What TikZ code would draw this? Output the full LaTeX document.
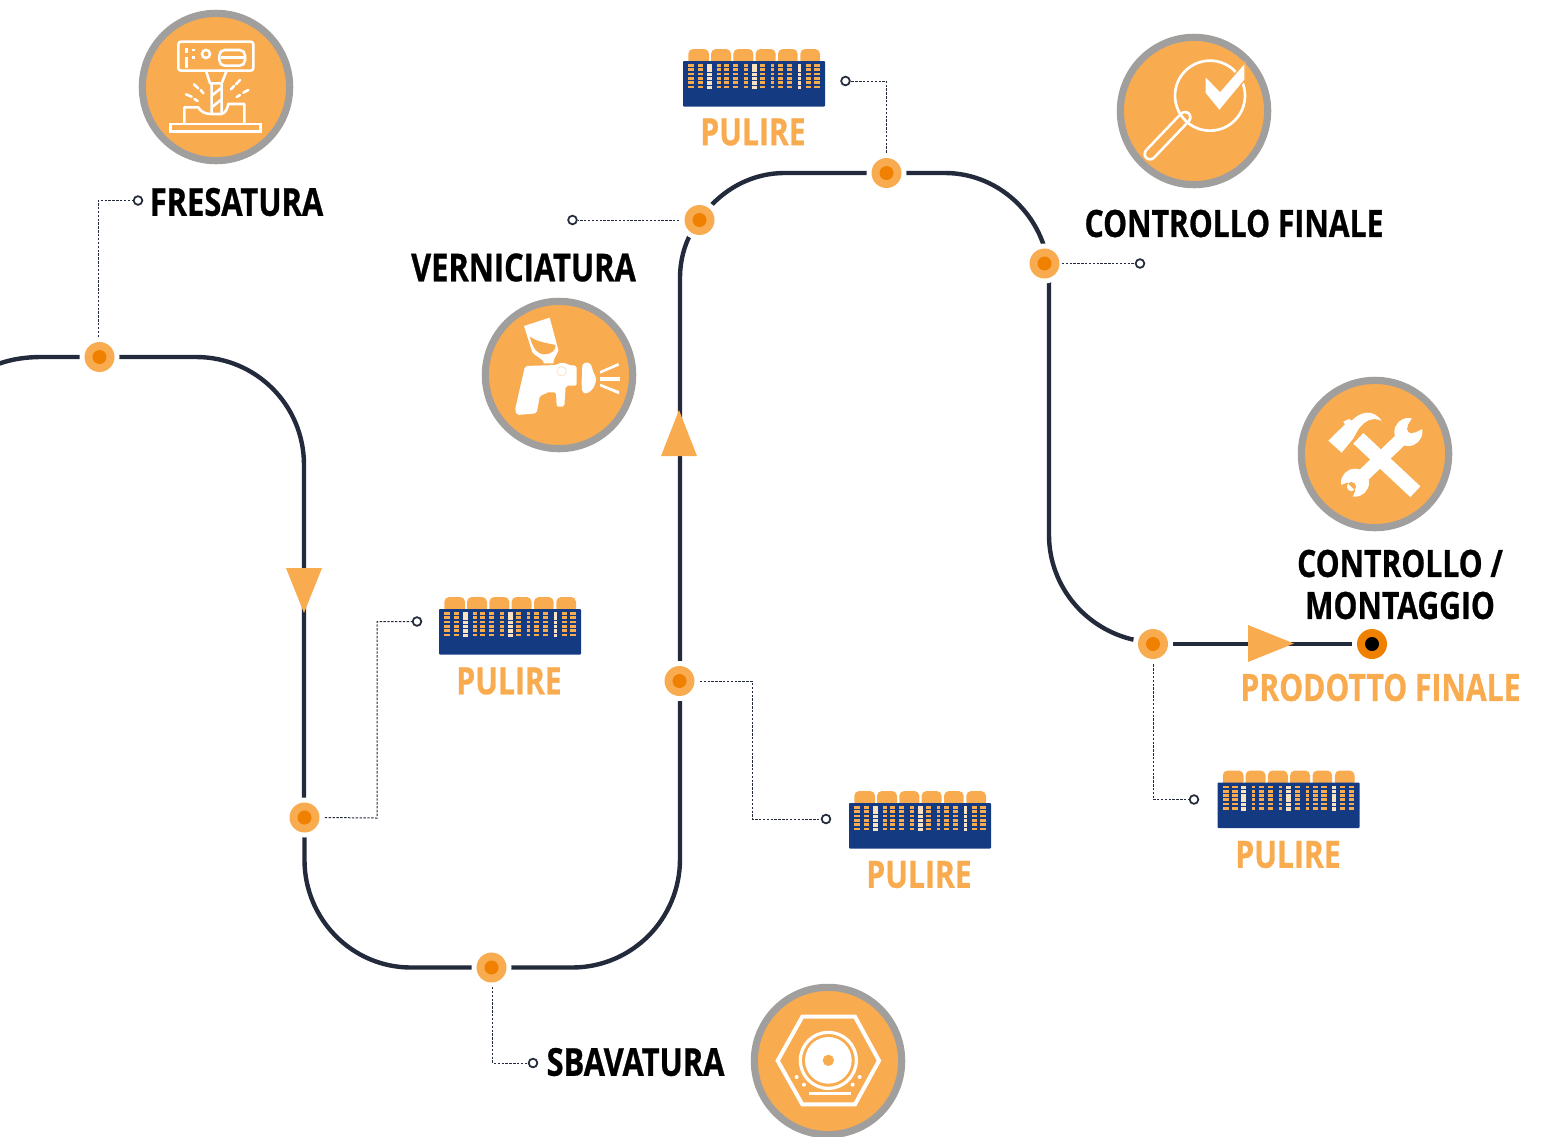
\documentclass[tikz,border=0pt]{standalone}
\usepackage{fontspec}
\usetikzlibrary{backgrounds}
\setmainfont{Open Sans}
\newfontfamily\lab[FakeStretch=0.8,BoldFeatures={FakeBold=0.7}]{Open Sans}
\definecolor{track}{HTML}{232A3C}
\definecolor{lorange}{HTML}{F9AB50}
\definecolor{dorange}{HTML}{F08000}
\definecolor{ringgrey}{HTML}{A09F9D}
\definecolor{navy}{HTML}{143A82}
\tikzset{
 trackline/.style={draw=track,line width=3.3pt},
 leader/.style={draw=track,line width=.75pt,dash pattern=on 1.8pt off 1.1pt},
 dotnode/.style={circle,inner sep=0,minimum size=30pt,fill=white,
   path picture={\fill[lorange] (path picture bounding box.center) circle[radius=15];
                 \fill[dorange] (path picture bounding box.center) circle[radius=7];}},
 endnode/.style={circle,inner sep=0,minimum size=30pt,fill=white,
   path picture={\fill[dorange] (path picture bounding box.center) circle[radius=15];
                 \fill[black] (path picture bounding box.center) circle[radius=7];}},
 tipnode/.style={circle,inner sep=0,minimum size=6.5pt,fill=white,draw=track,line width=1.3pt},
 ringnode/.style={circle,inner sep=0,minimum size=110.5pt,fill=lorange,draw=ringgrey,line width=5.4pt},
 blacklabel/.style={font=\lab\bfseries\fontsize{28.2}{31.5}\selectfont,text=black,inner sep=0,align=center},
 widelabel/.style={font=\lab\bfseries\fontsize{28.9}{31.5}\selectfont,text=black,inner sep=0,align=center},
 orangelabel/.style={font=\lab\bfseries\fontsize{28.2}{31.5}\selectfont,text=lorange,inner sep=0},
 wl/.style={draw=white,line width=1.9pt,fill=none},
 wf/.style={fill=white,draw=none},
 zoomed/.style={x=.25pt,y=-.25pt},
 pulire/.pic={
   \foreach \a/\b in {5.3/26,28/48,50.3/70.3,72.6/92.6,95/114.6,117.3/137}{
     \fill[lorange,rounded corners=3.6pt] (\a,4) -- (\a,-12) -- (\b,-12) -- (\b,4) -- cycle;}
   \fill[navy,rounded corners=.6pt] (0,0) rectangle (142,45.5);
   \foreach \yy in {3,7.3,11.5,15.7,20,24.6}{
     \foreach \xx/\w in {5.3/5.7,14.7/5.6,34.3/3.4,41.3/5,50.3/5,61.3/3.4,77/5,88/3.3,95.3/5,103.7/5.6,122.7/5,131/5.7}{
       \fill[lorange] (\xx,\yy) rectangle (\xx+\w,\yy+2.8);}
     \fill[white!65!lorange] (23.7,\yy) rectangle (28.7,\yy+3.6);
     \fill[white!65!lorange] (68.7,\yy) rectangle (73.7,\yy+3.6);
     \fill[white!65!lorange] (114.7,\yy) rectangle (118,\yy+3.6);
   }
 }
}
\begin{document}
\begin{tikzpicture}[x=.75pt,y=-.75pt]
\useasboundingbox (0,0) rectangle (1541,1136);
\clip (0,0) rectangle (1541,1136);

% route nodes
\node[dotnode] (n1) at (99.5,357) {};
\node[dotnode] (n2) at (304.5,817.5) {};
\node[dotnode] (n3) at (491.5,967.5) {};
\node[dotnode] (n4) at (679.5,681) {};
\node[dotnode] (n5) at (699.5,220) {};
\node[dotnode] (n6) at (886.5,173) {};
\node[dotnode] (n7) at (1044.5,263.5) {};
\node[dotnode] (n8) at (1153,644) {};
\node[endnode] (n9) at (1372,644) {};
\coordinate (start) at (-2,364);

\begin{scope}[on background layer]
\draw[trackline] (start) .. controls (12,359) and (26,357) .. (42,357) -- (n1.center);
\draw[trackline] (n1.center) -- (196,357) .. controls (256,357) and (304,405) .. (304,465) -- (304,817.5);
\draw[trackline] (n2.center) -- (304.5,860) .. controls (304.5,919) and (352,967.5) .. (411,967.5) -- (n3.center);
\draw[trackline] (n3.center) -- (572,967.5) .. controls (632,967.5) and (680,919) .. (680,859) -- (680,681);
\draw[trackline] (680,681) -- (680,278) .. controls (680,256) and (687,236) .. (n5.center);
\draw[trackline] (n5.center) .. controls (719,191) and (750,173) .. (785,173) -- (n6.center);
\draw[trackline] (n6.center) -- (945,173) .. controls (1002,173) and (1049,221) .. (1049,278) -- (1049,535) .. controls (1049,587) and (1087,632) .. (1140,641) -- (n8.center);
\draw[trackline] (n8.center) -- (n9.center);
\end{scope}

% direction triangles
\fill[lorange] (286,568) -- (322,568) -- (304,613) -- cycle;
\fill[lorange] (661,456) -- (697,456) -- (679,410) -- cycle;
\fill[lorange] (1248,625) -- (1248,662) -- (1294,643.5) -- cycle;

% leader tips
\node[tipnode] (t1) at (138,200.5) {};
\node[tipnode] (t2) at (417,621.5) {};
\node[tipnode] (t3) at (533,1063) {};
\node[tipnode] (t4) at (826,819) {};
\node[tipnode] (t5) at (572.5,220) {};
\node[tipnode] (t6) at (845.5,81) {};
\node[tipnode] (t7) at (1140,263.5) {};
\node[tipnode] (t8) at (1194,799.5) {};
\draw[leader] (98,337) -- (98,200.5) -- (t1.west);
\draw[leader] (n2.east) -- (377,818) -- (377,621.5) -- (t2.west);
\draw[leader] (492.5,987) -- (492.5,1063) -- (t3.west);
\draw[leader] (n4.east) -- (752,681) -- (752,819) -- (t4.west);
\draw[leader] (n5.west) -- (t5.east);
\draw[leader] (n6.north) -- (886.5,81) -- (t6.east);
\draw[leader] (n7.east) ++(-3,0) -- (t7.west);
\draw[leader] (n8.south) -- (1153,799.5) -- (t8.west);

% pulire blocks
\pic at (683,61) {pulire};
\pic at (439,609) {pulire};
\pic at (849,803) {pulire};
\pic at (1217.5,782.5) {pulire};
\node[orangelabel] (p1) at (753,132) {PULIRE};
\node[orangelabel] (p2) at (509,681) {PULIRE};
\node[orangelabel] (p3) at (919,874.5) {PULIRE};
\node[orangelabel] (p4) at (1288,854.5) {PULIRE};

% labels
\node[widelabel] (l1) at (236.5,202) {FRESATURA};
\node[widelabel] (l2) at (635.5,1062) {SBAVATURA};
\node[blacklabel] (l3) at (1234,223.5) {CONTROLLO FINALE};
\node[widelabel] (l4) at (523.5,267.5) {VERNICIATURA};
\node[blacklabel] (l5) at (1400,584.5) {CONTROLLO /\\MONTAGGIO};
\node[orangelabel] (l6) at (1380.5,687.5) {PRODOTTO FINALE};

% icon rings
\node[ringnode] (r1) at (216,87) {};
\node[ringnode] (r2) at (559,375) {};
\node[ringnode] (r3) at (1194,111) {};
\node[ringnode] (r4) at (1375,454) {};
\node[ringnode] (r5) at (828,1061) {};

% milling icon
\begin{scope}[shift={(130,0)},zoomed]
\draw[wl,rounded corners=2pt] (145,125) rectangle (370,212);
\draw[wl,rounded corners=4pt] (268,150) rectangle (345,197);
\draw[wl] (272,173) -- (342,173);
\draw[wl] (228,162) circle[radius=12];
\draw[wl] (170,144) -- (170,158) (170,170) -- (170,205) (191,147) -- (191,154) (191,168) -- (191,178);
\draw[wl,line join=round] (228,212) -- (240,250) -- (275,250) -- (290,212);
\draw[wl] (245,250) -- (245,340) (275,250) -- (275,340) (248,285) -- (272,265) (248,320) -- (272,300);
\draw[wl,line join=round] (163,372) -- (163,322) -- (205,322) .. controls (212,335) and (225,342) .. (245,342) -- (275,342) .. controls (288,338) and (292,325) .. (295,312) -- (343,312) -- (343,372);
\draw[wl] (122,372) rectangle (392,395);
\draw[wl,line cap=round] (192,253) -- (205,265) (212,270) -- (220,280) (168,283) -- (185,290) (193,297) -- (203,303)
  (330,240) -- (318,253) (312,258) -- (303,268) (355,270) -- (340,278) (330,285) -- (320,291);
\end{scope}

% spray gun icon
\begin{scope}[shift={(475,295)},zoomed]
\fill[wf] (147,93) -- (224,68) -- (250,165) .. controls (246,182) and (235,188) .. (235,205) -- (207,205) .. controls (205,190) and (185,188) .. (172,172) -- cycle;
\fill[lorange] (164,125) .. controls (190,142) and (220,145) .. (242,150) .. controls (242,168) and (228,178) .. (205,178) .. controls (188,176) and (176,165) .. cycle;
\fill[wf,rounded corners=1.5pt] (150,213) -- (245,210) .. controls (255,203) and (270,203) .. (280,210) -- (305,212) -- (305,272) -- (272,272) -- (268,335) -- (245,335) -- (243,292) -- (212,292) -- (208,300) -- (195,300) -- (185,355) -- (125,360) -- (120,345) -- cycle;
\draw[lorange!45!white,line width=.4pt] (260,229) circle[radius=14];
\fill[wf] (322,210) .. controls (330,198) and (348,198) .. (352,222) .. controls (356,240) and (365,240) .. (362,262) .. controls (358,282) and (340,298) .. (328,295) .. controls (320,290) and (320,280) .. (320,260) -- cycle;
\fill[wf] (375,228) -- (430,204) -- (432,212) -- (375,236) -- cycle;
\fill[wf] (375,245) -- (435,245) -- (435,257) -- (375,257) -- cycle;
\fill[wf] (375,266) -- (432,288) -- (432,298) -- (375,274) -- cycle;
\end{scope}

% magnifier icon
\begin{scope}[shift={(1110,30)},zoomed]
\draw[white,line width=10pt,line cap=round] (225,262) -- (120,372);
\draw[lorange,line width=6pt,line cap=round] (225,262) -- (120,372);
\draw[white,line width=2pt] (300,197) circle[radius=105];
\fill[wf,draw=lorange,line width=1pt,line join=miter] (285,137) -- (285,190) -- (328,243) -- (405,150) -- (405,97) -- (330,183) -- cycle;
\end{scope}

% tools icon
\begin{scope}[shift={(1290,370)},zoomed]
\draw[white,line width=11pt] (205,205) -- (376,365);
\draw[white,line width=10pt] (195,340) -- (352,190);
\fill[wf] (355,186) circle[radius=42];
\fill[lorange] (365,176) circle[radius=14] (353,166) -- (372,135) -- (408,170) -- (375,188) -- cycle;
\fill[wf] (195,338) circle[radius=42];
\fill[lorange] (184,350) circle[radius=14] (172,338) -- (140,350) -- (180,395) -- (196,362) -- cycle;
\fill[wf] (115,212) -- (165,163) -- (160,155) -- (177,147) -- (185,152) .. controls (210,125) and (250,115) .. (275,153) .. controls (250,140) and (225,150) .. (205,178) -- (190,205) -- (155,248) -- cycle;
\end{scope}

% deburring icon
\begin{scope}[shift={(745,976)},zoomed]
\draw[draw=white,line width=3pt] (98,254) -- (172,122) -- (330,122) -- (402,254) -- (330,385) -- (172,385) -- cycle;
\draw[white,line width=2.4pt] (250,253) circle[radius=84];
\fill[wf] (250,253) circle[radius=70];
\fill[lorange] (250,253) circle[radius=17];
\fill[wf] (192,348) rectangle (317,356);
\fill[wf] (155,303) circle[radius=6] (177,326) circle[radius=6] (344,303) circle[radius=6] (323,326) circle[radius=6];
\end{scope}
\end{tikzpicture}
\end{document}
